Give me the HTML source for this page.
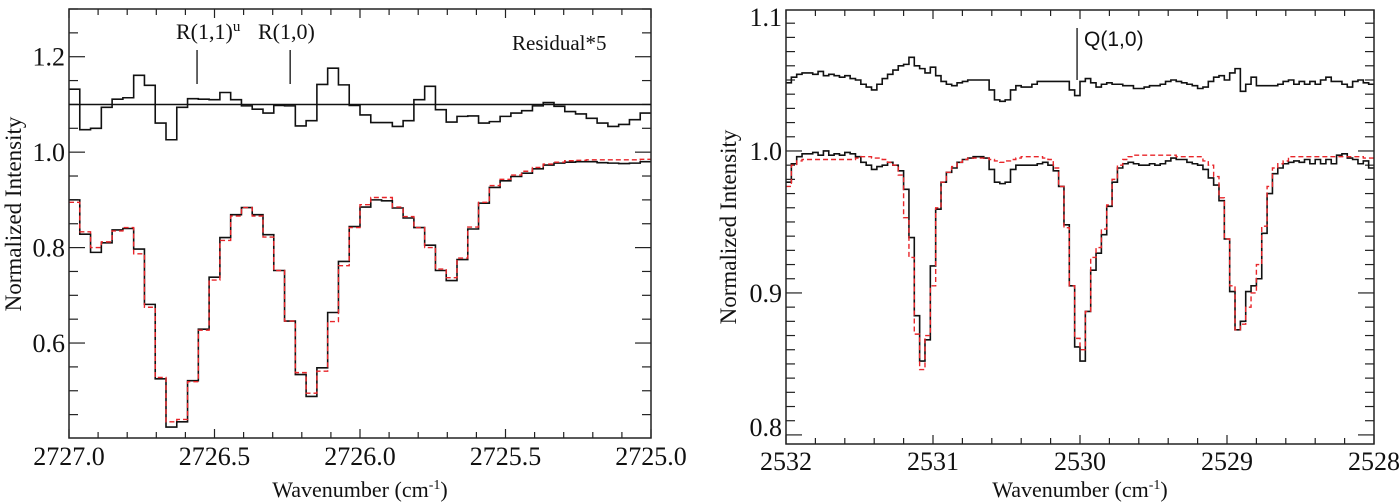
<!DOCTYPE html>
<html><head><meta charset="utf-8"><style>
html,body{margin:0;padding:0;background:#fff}
svg{display:block}
svg text{font-family:"Liberation Serif","DejaVu Serif","Times New Roman",Times,serif}
svg text.sans{font-family:"Liberation Sans","DejaVu Sans",sans-serif}
</style></head><body>
<svg id="chart" width="1400" height="503" viewBox="0 0 1400 503" xmlns="http://www.w3.org/2000/svg">
<g id="left"></g>
<g id="right"></g>
</svg>
<script>
// ---- Left panel data (2727.0 -> 2725.0 cm-1, 54 bins) ----
const leftObs = [0.90,0.828,0.79,0.81,0.837,0.84,0.797,0.681,0.525,0.424,0.435,0.521,0.629,0.738,0.821,0.869,0.884,0.869,0.827,0.752,0.646,0.534,0.488,0.548,0.664,0.771,0.844,0.885,0.90,0.898,0.883,0.862,0.842,0.805,0.752,0.731,0.775,0.839,0.893,0.926,0.94,0.949,0.956,0.965,0.973,0.977,0.979,0.98,0.98,0.978,0.977,0.976,0.977,0.98];
const leftFit = [0.895,0.833,0.80,0.812,0.835,0.842,0.787,0.675,0.528,0.435,0.44,0.519,0.627,0.732,0.815,0.866,0.884,0.866,0.822,0.752,0.646,0.538,0.495,0.541,0.645,0.762,0.842,0.89,0.905,0.905,0.885,0.865,0.842,0.80,0.755,0.737,0.778,0.843,0.895,0.93,0.943,0.952,0.96,0.968,0.975,0.979,0.982,0.983,0.984,0.984,0.984,0.984,0.984,0.985];
const leftRes = [1.132,1.047,1.05,1.094,1.111,1.114,1.161,1.14,1.061,1.026,1.094,1.112,1.111,1.11,1.125,1.11,1.097,1.09,1.082,1.098,1.097,1.055,1.066,1.142,1.176,1.141,1.098,1.078,1.062,1.062,1.054,1.066,1.11,1.138,1.089,1.063,1.075,1.076,1.061,1.064,1.075,1.082,1.087,1.097,1.104,1.096,1.085,1.08,1.071,1.061,1.054,1.058,1.068,1.082];
const leftXTicks = [2727.0,2726.5,2726.0,2725.5,2725.0];
const leftYTicks = [0.6,0.8,1.0,1.2];

// ---- Right panel data (2532 -> 2528 cm-1, 110 bins) ----
const rightObs = [0.978,0.991,0.996,0.998,0.998,0.999,0.997,1.0,0.997,0.998,0.997,0.999,0.998,0.996,0.992,0.99,0.987,0.989,0.99,0.992,0.99,0.986,0.973,0.939,0.884,0.852,0.867,0.919,0.959,0.978,0.985,0.988,0.992,0.994,0.995,0.996,0.996,0.995,
0.987,0.978,0.977,0.978,0.987,0.99,0.99,0.99,0.99,0.991,0.992,0.99,0.986,0.975,0.948,0.905,0.862,0.852,0.887,0.916,0.928,0.941,0.961,0.978,0.988,0.991,0.992,0.991,0.99,0.99,0.991,0.99,0.991,0.993,0.995,
0.994,0.994,0.992,0.991,0.99,0.987,0.981,0.976,0.965,0.938,0.901,0.874,0.88,0.901,0.905,0.91,0.942,0.97,0.984,0.988,0.991,0.992,0.993,0.992,0.994,0.991,0.994,0.991,0.994,0.991,0.997,0.998,0.995,0.994,0.991,0.993,0.988];
const rightFit = [0.975,0.99,0.993,0.994,0.994,0.994,0.994,0.994,0.994,0.994,0.994,0.994,0.994,0.995,0.996,0.996,0.995,0.995,0.994,0.992,0.99,0.983,0.953,0.925,0.871,0.846,0.87,0.905,0.96,0.978,0.985,0.989,0.992,0.994,0.995,0.995,0.995,0.995,
0.994,0.993,0.992,0.993,0.994,0.995,0.996,0.996,0.996,0.996,0.995,0.994,0.988,0.975,0.946,0.905,0.868,0.86,0.887,0.925,0.932,0.945,0.962,0.98,0.99,0.994,0.996,0.997,0.997,0.997,0.997,0.997,0.997,0.997,0.997,
0.996,0.996,0.996,0.996,0.996,0.993,0.99,0.982,0.967,0.938,0.905,0.874,0.878,0.89,0.90,0.92,0.947,0.975,0.988,0.991,0.993,0.996,0.996,0.996,0.996,0.996,0.996,0.996,0.996,0.996,0.996,0.996,0.996,0.996,0.996,0.995,0.995];
const rightRes = [1.048,1.052,1.054,1.055,1.055,1.054,1.056,1.053,1.054,1.053,1.052,1.053,1.051,1.05,1.047,1.045,1.043,1.047,1.051,1.054,1.057,1.06,1.061,1.066,1.06,1.058,1.055,1.059,1.053,1.049,1.047,1.046,1.048,1.049,1.05,1.05,1.05,1.05,
1.043,1.036,1.035,1.036,1.043,1.046,1.045,1.045,1.047,1.049,1.049,1.049,1.049,1.049,1.049,1.043,1.039,1.049,1.051,1.048,1.045,1.047,1.048,1.047,1.047,1.046,1.046,1.044,1.044,1.045,1.046,1.046,1.047,1.049,1.05,
1.049,1.048,1.047,1.046,1.044,1.045,1.049,1.052,1.053,1.05,1.055,1.058,1.042,1.047,1.052,1.046,1.046,1.046,1.046,1.047,1.049,1.05,1.047,1.049,1.047,1.049,1.047,1.05,1.052,1.049,1.049,1.047,1.045,1.049,1.05,1.048,1.047];
const rightXTicks = [2532,2531,2530,2529,2528];
const rightYTicks = [0.8,0.9,1.0,1.1];

const NS = "http://www.w3.org/2000/svg";
function mk(parent, tag, attrs, txt){
  const e = document.createElementNS(NS, tag);
  if (tag === 'text') { e.setAttribute('fill', '#111'); }
  for (const k in attrs) e.setAttribute(k, attrs[k]);
  if (txt !== undefined) e.textContent = txt;
  parent.appendChild(e);
  return e;
}

function panel(g, cfg){
  const {L,R,T,B,xMax,xMin,yMin,yMax} = cfg;
  const xs = w => L + (xMax - w)/(xMax - xMin)*(R-L);
  const ys = v => B - (v - yMin)/(yMax - yMin)*(B-T);
  const tk = mk(g,'g',{stroke:'#222','stroke-width':1.2});
  
  
  const nx = Math.round((xMax-xMin)/cfg.xMinor);
  for (let i=0;i<=nx;i++){
    const w = xMax - i*cfg.xMinor; const x = xs(w);
    const major = Math.abs((xMax-w)/cfg.xMajor - Math.round((xMax-w)/cfg.xMajor))<1e-6;
    const len = major?9:6;
    mk(tk,'line',{x1:x,x2:x,y1:B,y2:B-len});
    mk(tk,'line',{x1:x,x2:x,y1:T,y2:T+len});
  }
  const ny0 = Math.ceil(yMin/cfg.yMinor-1e-6), ny1 = Math.floor(yMax/cfg.yMinor+1e-6);
  for (let j=ny0;j<=ny1;j++){
    const v = j*cfg.yMinor; const y = ys(v);
    const major = Math.abs(v/cfg.yMajor - Math.round(v/cfg.yMajor))<1e-6;
    const len = major?16:9;
    mk(tk,'line',{x1:L,x2:L+len,y1:y,y2:y});
    mk(tk,'line',{x1:R,x2:R-len,y1:y,y2:y});
  }
  cfg.xTicks.forEach(t=>{
    const lb = mk(g,'text',{x:xs(t),y:cfg.xLabY,'text-anchor':'middle','font-size':26}, cfg.xFmt(t));
    
    
  });
  cfg.yTicks.forEach(t=>{
    let y = ys(t)+9;
    if (y < T+16) y = T+16;
    if (y > B-8) y = B-8;
    const lb = mk(g,'text',{x:L-4,y:y,'text-anchor':'end','font-size':26}, t.toFixed(1));
    
    
  });
  function step(vals, name, attrs){
    const n = vals.length, bw = (xMax-xMin)/n;
    let d = '';
    vals.forEach((v,i)=>{
      const x0 = xs(xMax - i*bw), x1 = xs(xMax-(i+1)*bw), y = ys(v);
      d += (i===0? 'M'+x0+' '+y : ' V'+y) + ' H'+x1;
    });
    const p = mk(g,'path',Object.assign({d:d,fill:'none'},attrs));
    
    
  }
  step(cfg.obs,'observed-spectrum',{stroke:'#111','stroke-width':1.6});
  step(cfg.fit,'model-fit',{stroke:'#e8262a','stroke-width':1.4,'stroke-dasharray':'5,3'});
  step(cfg.res,'residual-trace',{stroke:'#111','stroke-width':1.6});
  const fr = mk(g,'rect',{x:L,y:T,width:R-L,height:B-T,fill:'none',stroke:'#222','stroke-width':1.5});
  
  
  const xt = mk(g,'text',{x:(L+R)/2,y:cfg.xTitleY,'text-anchor':'middle','font-size':22},'');
  xt.innerHTML = 'Wavenumber (cm<tspan dy="-8" font-size="14">-1</tspan><tspan dy="8">)</tspan>';
  
  
  const yt = mk(g,'text',{x:0,y:0,'text-anchor':'middle','font-size':23,transform:'translate('+cfg.yTitleX+','+cfg.yTitleY+') rotate(-90)'},'Normalized Intensity');
  
  
  return {xs,ys};
}

const gl = document.getElementById('left');
const sl = panel(gl,{L:69,R:651,T:9,B:438,xMax:2727,xMin:2725,yMin:0.401,yMax:1.3,
  xMinor:0.1,xMajor:0.5,yMinor:0.05,yMajor:0.2,xTicks:leftXTicks,yTicks:leftYTicks,
  xFmt:t=>t.toFixed(1),xLabY:465,xTitleY:497,yTitleX:21,yTitleY:214,
  obs:leftObs,fit:leftFit,res:leftRes});
const base = mk(gl,'line',{x1:69,x2:651,y1:sl.ys(1.1),y2:sl.ys(1.1),stroke:'#111','stroke-width':1.5});


[[2726.56,'R(1,1)','u'],[2726.24,'R(1,0)','']].forEach(a=>{
  const x = sl.xs(a[0]);
  const ln = mk(gl,'line',{x1:x,x2:x,y1:50,y2:84,stroke:'#111','stroke-width':1.3});
  
  
});
const t1 = mk(gl,'text',{x:176,y:39,'font-size':22},'');
t1.innerHTML='R(1,1)<tspan dy="-8" font-size="15">u</tspan>';


const t2 = mk(gl,'text',{x:258,y:39,'font-size':22},'R(1,0)');


const t3 = mk(gl,'text',{x:512,y:50,'font-size':21},'Residual*5');



const gr = document.getElementById('right');
const sr = panel(gr,{L:786,R:1374,T:10,B:444,xMax:2532,xMin:2528,yMin:0.7936,yMax:1.0993,
  xMinor:0.2,xMajor:1,yMinor:0.01,yMajor:0.1,xTicks:rightXTicks,yTicks:rightYTicks,
  xFmt:t=>String(t),xLabY:470,xTitleY:497,yTitleX:736,yTitleY:227,
  obs:rightObs,fit:rightFit,res:rightRes});
const qx = sr.xs(2530.02);
const ql = mk(gr,'line',{x1:qx,x2:qx,y1:28,y2:80,stroke:'#111','stroke-width':1.3});


const q = mk(gr,'text',{x:qx+7,y:46,'font-size':21,'class':'sans'},'Q(1,0)');


</script>
</body></html>
